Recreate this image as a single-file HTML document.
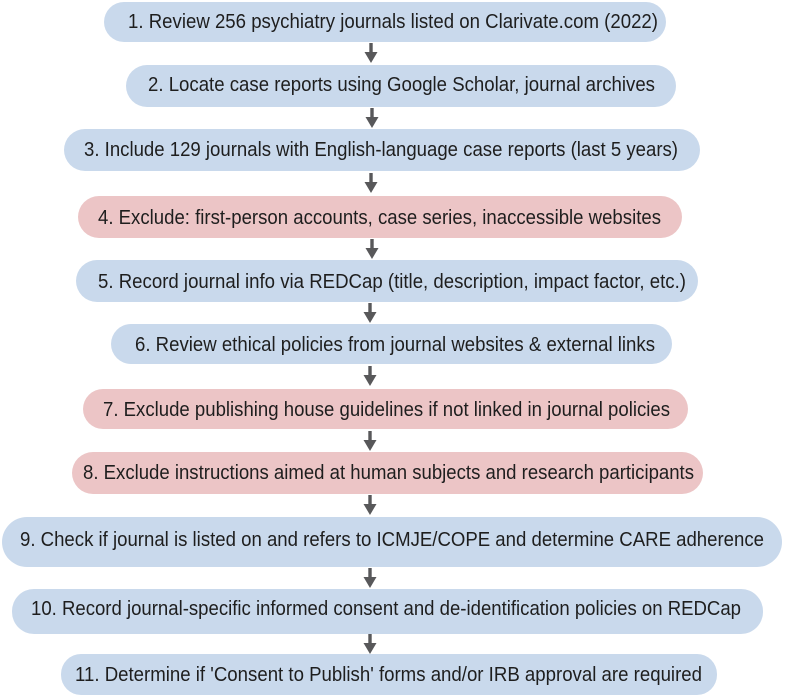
<!DOCTYPE html>
<html><head><meta charset="utf-8"><style>
html,body{margin:0;padding:0;background:#fff;}
svg{display:block;}
text{font-family:"Liberation Sans Narrow","Liberation Sans",sans-serif;font-size:20px;fill:#1e1e1e;}
</style></head><body>
<svg width="787" height="698" viewBox="0 0 787 698" xmlns="http://www.w3.org/2000/svg">
<defs>
<g id="arr"><rect x="-1.7" y="0" width="3.4" height="10" fill="#58585a"/><polygon points="-6.5,9 6.5,9 0,20" fill="#58585a"/></g>
</defs>
<g>
<rect x="104" y="2" width="562" height="40" rx="20" fill="#c9d9ec"/>
<text x="128" y="28" textLength="530" lengthAdjust="spacingAndGlyphs">1. Review 256 psychiatry journals listed on Clarivate.com (2022)</text>
<use href="#arr" x="371" y="43"/>
<rect x="126" y="65" width="550" height="42" rx="21" fill="#c9d9ec"/>
<text x="148" y="91" textLength="507" lengthAdjust="spacingAndGlyphs">2. Locate case reports using Google Scholar, journal archives</text>
<use href="#arr" x="372" y="108"/>
<rect x="64" y="129" width="636" height="42" rx="21" fill="#c9d9ec"/>
<text x="84" y="156" textLength="594" lengthAdjust="spacingAndGlyphs">3. Include 129 journals with English-language case reports (last 5 years)</text>
<use href="#arr" x="371" y="173"/>
<rect x="78" y="196" width="604" height="42" rx="21" fill="#ecc5c6"/>
<text x="98" y="224" textLength="563" lengthAdjust="spacingAndGlyphs">4. Exclude: first-person accounts, case series, inaccessible websites</text>
<use href="#arr" x="372" y="239"/>
<rect x="76" y="260" width="622" height="42" rx="21" fill="#c9d9ec"/>
<text x="98" y="288" textLength="588" lengthAdjust="spacingAndGlyphs">5. Record journal info via REDCap (title, description, impact factor, etc.)</text>
<use href="#arr" x="370" y="303"/>
<rect x="111" y="324" width="561" height="40" rx="20" fill="#c9d9ec"/>
<text x="135" y="351" textLength="520" lengthAdjust="spacingAndGlyphs">6. Review ethical policies from journal websites &amp; external links</text>
<use href="#arr" x="370" y="366"/>
<rect x="83" y="389" width="605" height="40" rx="20" fill="#ecc5c6"/>
<text x="103" y="416" textLength="567" lengthAdjust="spacingAndGlyphs">7. Exclude publishing house guidelines if not linked in journal policies</text>
<use href="#arr" x="370" y="431"/>
<rect x="72" y="452" width="631" height="42" rx="21" fill="#ecc5c6"/>
<text x="83" y="479" textLength="611" lengthAdjust="spacingAndGlyphs">8. Exclude instructions aimed at human subjects and research participants</text>
<use href="#arr" x="370" y="495"/>
<rect x="2" y="517" width="780" height="50" rx="25" fill="#c9d9ec"/>
<text x="20" y="546" textLength="744" lengthAdjust="spacingAndGlyphs">9. Check if journal is listed on and refers to ICMJE/COPE and determine CARE adherence</text>
<use href="#arr" x="370" y="568"/>
<rect x="12" y="589" width="751" height="45" rx="22" fill="#c9d9ec"/>
<text x="31" y="615" textLength="710" lengthAdjust="spacingAndGlyphs">10. Record journal-specific informed consent and de-identification policies on REDCap</text>
<use href="#arr" x="370" y="634"/>
<rect x="61" y="654" width="656" height="41" rx="20" fill="#c9d9ec"/>
<text x="75" y="681" textLength="627" lengthAdjust="spacingAndGlyphs">11. Determine if 'Consent to Publish' forms and/or IRB approval are required</text>
</g>
</svg>
</body></html>
